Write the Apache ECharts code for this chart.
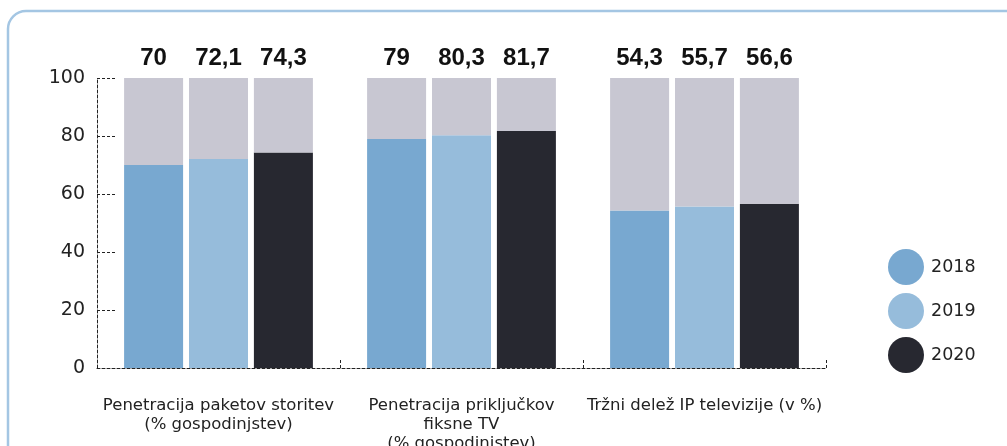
<!DOCTYPE html>
<html>
<head>
<meta charset="utf-8">
<style>
    html, body { margin: 0; padding: 0; background: #fff; }
    #chart { width: 1007px; height: 446px; }
</style>
<script src="https://cdn.jsdelivr.net/npm/echarts@6/dist/echarts.min.js"></script>
</head>
<body>
<div id="chart"></div>
<script>
// podatki
const categories = [
    'Penetracija paketov storitev\n(% gospodinjstev)',
    'Penetracija priključkov\nfiksne TV\n(% gospodinjstev)',
    'Tržni delež IP televizije (v %)'
];
const years = ['2018', '2019', '2020'];
const values2018 = [70, 79, 54.3];
const values2019 = [72.1, 80.3, 55.7];
const values2020 = [74.3, 81.7, 56.6];
const yTicks = [0, 20, 40, 60, 80, 100];

const colors = ['#78a8d0', '#96bcdb', '#272830'];
const grey = '#c8c7d2';
const dashed = [3, 2];

const fmt = v => String(v).replace('.', ',');

const chart = echarts.init(document.getElementById('chart'));

const valueSeries = [values2018, values2019, values2020].map((vals, i) => ({
    name: years[i],
    type: 'bar',
    stack: 's' + i,
    data: vals,
    barWidth: 59,
    barGap: '10%',
    itemStyle: { color: colors[i] }
}));

// siv del do 100 z oznako vrednosti nad stolpcem
const restSeries = [values2018, values2019, values2020].map((vals, i) => ({
    name: 'rest' + i,
    type: 'bar',
    stack: 's' + i,
    data: vals.map(v => +(yTicks[yTicks.length - 1] - v).toFixed(1)),
    barWidth: 59,
    barGap: '10%',
    itemStyle: { color: grey },
    label: {
        show: true,
        position: 'top',
        distance: 8,
        formatter: p => fmt(vals[p.dataIndex]),
        fontFamily: 'Liberation Sans',
        fontWeight: 'bold',
        fontSize: 24,
        color: '#111'
    }
}));

chart.setOption({
    animation: false,
    graphic: [{
        type: 'rect',
        shape: { x: 8, y: 11, width: 1040, height: 460, r: 18 },
        style: { fill: 'none', stroke: '#a4c6e3', lineWidth: 2.5 },
        silent: true
    }],
    grid: { left: 97, right: 181, top: 78, bottom: 78, containLabel: false, outerBoundsMode: 'none' },
    legend: {
        orient: 'vertical',
        left: 883,
        top: 244,
        icon: 'circle',
        itemWidth: 36,
        itemHeight: 36,
        itemGap: 8,
        data: years,
        textStyle: { fontFamily: 'DejaVu Sans', fontSize: 17.5, color: '#222', padding: [0, 0, 0, 2] }
    },
    xAxis: {
        type: 'category',
        data: categories,
        axisLine: { lineStyle: { color: '#222', width: 1, type: dashed } },
        axisTick: { show: true, inside: true, length: 8, lineStyle: { color: '#222', type: dashed } },
        axisLabel: {
            interval: 0,
            margin: 28,
            fontFamily: 'DejaVu Sans',
            fontSize: 16.5,
            lineHeight: 19,
            color: '#222'
        }
    },
    yAxis: {
        type: 'value',
        min: yTicks[0],
        max: yTicks[yTicks.length - 1],
        interval: 20,
        axisLine: { show: true, lineStyle: { color: '#222', width: 1, type: dashed } },
        axisTick: { show: true, inside: true, length: 18, lineStyle: { color: '#222', type: dashed } },
        splitLine: { show: false },
        axisLabel: {
            margin: 12,
            fontFamily: 'DejaVu Sans',
            fontSize: 19,
            color: '#222'
        }
    },
    series: valueSeries.concat(restSeries)
});
</script>
</body>
</html>
